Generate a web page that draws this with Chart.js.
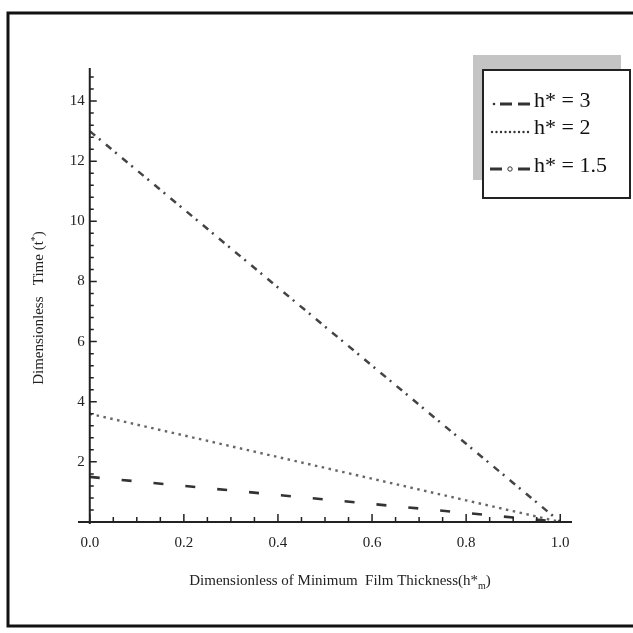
<!DOCTYPE html>
<html>
<head>
<meta charset="utf-8">
<script src="https://cdn.jsdelivr.net/npm/chart.js@4/dist/chart.umd.min.js"></script>
<style>
  html, body { margin: 0; padding: 0; background: #fff; }
  canvas { display: block; }
</style>
</head>
<body>
<canvas id="chartCanvas" width="633" height="633"></canvas>
<script>
// film thickness values (x) and dimensionless time for each h*
const hm = [0, 0.1, 0.2, 0.3, 0.4, 0.5, 0.6, 0.7, 0.8, 0.9, 1.0];
const t3 = [13, 11.7, 10.4, 9.1, 7.8, 6.5, 5.2, 3.9, 2.6, 1.3, 0];
const t2 = [3.6, 3.24, 2.88, 2.52, 2.16, 1.8, 1.44, 1.08, 0.72, 0.36, 0];
const t15 = [1.5, 1.35, 1.2, 1.05, 0.9, 0.75, 0.6, 0.45, 0.3, 0.15, 0];
const seriesLabels = ["h* = 3", "h* = 2", "h* = 1.5"];

const xTicks = [0, 0.2, 0.4, 0.6, 0.8, 1.0];
const xTickLabels = ["0.0", "0.2", "0.4", "0.6", "0.8", "1.0"];
const yTicks = [2, 4, 6, 8, 10, 12, 14];
const yTickLabels = ["2", "4", "6", "8", "10", "12", "14"];

const serif = "'Liberation Serif', 'DejaVu Serif', serif";
const ink = "#222";

function pts(ys) {
  return hm.map((x, i) => ({ x, y: ys[i] }));
}

const dashes = [[7, 5, 2, 7], [2.5, 4.5], [10, 22]];
const widths = [2.5, 2.4, 2.6];
const colors = ["#444", "#666", "#333"];

// axes, ticks, labels, titles, legend, frame
const decor = {
  id: "decor",
  afterDraw(chart) {
    const ctx = chart.ctx;
    const xs = chart.scales.x, ys = chart.scales.y;
    const x0 = xs.getPixelForValue(0);
    const y0 = ys.getPixelForValue(0);
    const area = chart.chartArea;
    ctx.save();

    // outer frame
    ctx.strokeStyle = "#111";
    ctx.lineWidth = 3;
    ctx.beginPath();
    ctx.moveTo(640, 13);
    ctx.lineTo(8, 13);
    ctx.lineTo(8, 626);
    ctx.lineTo(640, 626);
    ctx.stroke();

    // axis lines
    ctx.strokeStyle = ink;
    ctx.lineWidth = 2;
    ctx.beginPath();
    ctx.moveTo(area.left, y0);
    ctx.lineTo(area.right, y0);
    ctx.moveTo(x0, area.top);
    ctx.lineTo(x0, y0 + 2);
    ctx.stroke();

    // x ticks (inward)
    ctx.lineWidth = 1.5;
    ctx.beginPath();
    for (let k = 0; k <= 20; k++) {
      const v = k * 0.05;
      const px = xs.getPixelForValue(v);
      const len = k % 4 === 0 ? 8 : 5;
      ctx.moveTo(px, y0);
      ctx.lineTo(px, y0 - len);
    }
    // y ticks (inward)
    for (let k = 1; k * 0.4 <= 15.05; k++) {
      const v = k * 0.4;
      const py = ys.getPixelForValue(v);
      const major = Math.abs(v / 2 - Math.round(v / 2)) < 1e-6;
      ctx.moveTo(x0, py);
      ctx.lineTo(x0 + (major ? 7 : 4), py);
    }
    ctx.stroke();

    // tick labels
    ctx.fillStyle = ink;
    ctx.font = "15px " + serif;
    ctx.textAlign = "center";
    ctx.textBaseline = "middle";
    xTicks.forEach((v, i) => {
      ctx.fillText(xTickLabels[i], xs.getPixelForValue(v), 543);
    });
    ctx.textAlign = "right";
    yTicks.forEach((v, i) => {
      ctx.fillText(yTickLabels[i], x0 - 5, ys.getPixelForValue(v));
    });

    // x title with subscript
    ctx.textAlign = "left";
    ctx.textBaseline = "alphabetic";
    ctx.font = "15px " + serif;
    const xt1 = "Dimensionless of Minimum  Film Thickness(h*";
    const w1 = ctx.measureText(xt1).width;
    ctx.font = "10px " + serif;
    const w2 = ctx.measureText("m").width;
    ctx.font = "15px " + serif;
    const w3 = ctx.measureText(")").width;
    let sx = 340 - (w1 + w2 + w3) / 2;
    ctx.fillText(xt1, sx, 585);
    ctx.font = "10px " + serif;
    ctx.fillText("m", sx + w1, 589);
    ctx.font = "15px " + serif;
    ctx.fillText(")", sx + w1 + w2, 585);

    // y title, rotated
    ctx.save();
    ctx.translate(43, 308);
    ctx.rotate(-Math.PI / 2);
    ctx.font = "15px " + serif;
    const yt1 = "Dimensionless   Time (t";
    const yw1 = ctx.measureText(yt1).width;
    ctx.font = "10px " + serif;
    const yw2 = ctx.measureText("*").width;
    ctx.font = "15px " + serif;
    const ysx = -(yw1 + yw2 + ctx.measureText(")").width) / 2;
    ctx.fillText(yt1, ysx, 0);
    ctx.font = "10px " + serif;
    ctx.fillText("*", ysx + yw1, -5);
    ctx.font = "15px " + serif;
    ctx.fillText(")", ysx + yw1 + yw2, 0);
    ctx.restore();

    // legend: grey shadow + white box
    ctx.fillStyle = "#c4c4c4";
    ctx.fillRect(473, 55, 148, 125);
    ctx.fillStyle = "#fff";
    ctx.fillRect(483, 70, 147, 128);
    ctx.strokeStyle = "#222";
    ctx.lineWidth = 2;
    ctx.strokeRect(483, 70, 147, 128);

    const rowY = [101, 128, 166];
    ctx.font = "22px " + serif;
    ctx.textBaseline = "middle";
    ctx.textAlign = "left";
    chart.data.datasets.forEach((ds, i) => {
      const ry = rowY[i];
      ctx.strokeStyle = "#333";
      ctx.fillStyle = "#333";
      if (i === 0) {
        ctx.beginPath();
        ctx.arc(494, ry + 3, 1.3, 0, Math.PI * 2);
        ctx.fill();
        ctx.lineWidth = 3;
        ctx.beginPath();
        ctx.moveTo(500, ry + 3); ctx.lineTo(512, ry + 3);
        ctx.moveTo(518, ry + 3); ctx.lineTo(530, ry + 3);
        ctx.stroke();
      } else if (i === 1) {
        for (let k = 0; k < 9; k++) {
          ctx.beginPath();
          ctx.arc(492 + k * 4.5, ry + 4, 1.2, 0, Math.PI * 2);
          ctx.fill();
        }
      } else {
        ctx.lineWidth = 3;
        ctx.beginPath();
        ctx.moveTo(490, ry + 3); ctx.lineTo(502, ry + 3);
        ctx.moveTo(518, ry + 3); ctx.lineTo(530, ry + 3);
        ctx.stroke();
        ctx.lineWidth = 1;
        ctx.beginPath();
        ctx.arc(510, ry + 3, 2.2, 0, Math.PI * 2);
        ctx.stroke();
      }
      ctx.fillStyle = "#111";
      ctx.fillText(ds.label, 534, ry);
    });

    ctx.restore();
  }
};

new Chart(document.getElementById("chartCanvas"), {
  type: "line",
  data: {
    datasets: [t3, t2, t15].map((ys, i) => ({
      label: seriesLabels[i],
      data: pts(ys),
      borderColor: colors[i],
      borderWidth: widths[i],
      borderDash: dashes[i],
      pointRadius: 0,
      tension: 0,
      fill: false
    }))
  },
  options: {
    responsive: false,
    animation: false,
    layout: { padding: { left: 78, right: 61, top: 68, bottom: 111 } },
    plugins: { legend: { display: false }, tooltip: { enabled: false } },
    scales: {
      x: { type: "linear", min: -0.025, max: 1.025, display: false },
      y: { type: "linear", min: 0, max: 15.1, display: false }
    }
  },
  plugins: [decor]
});
</script>
</body>
</html>
